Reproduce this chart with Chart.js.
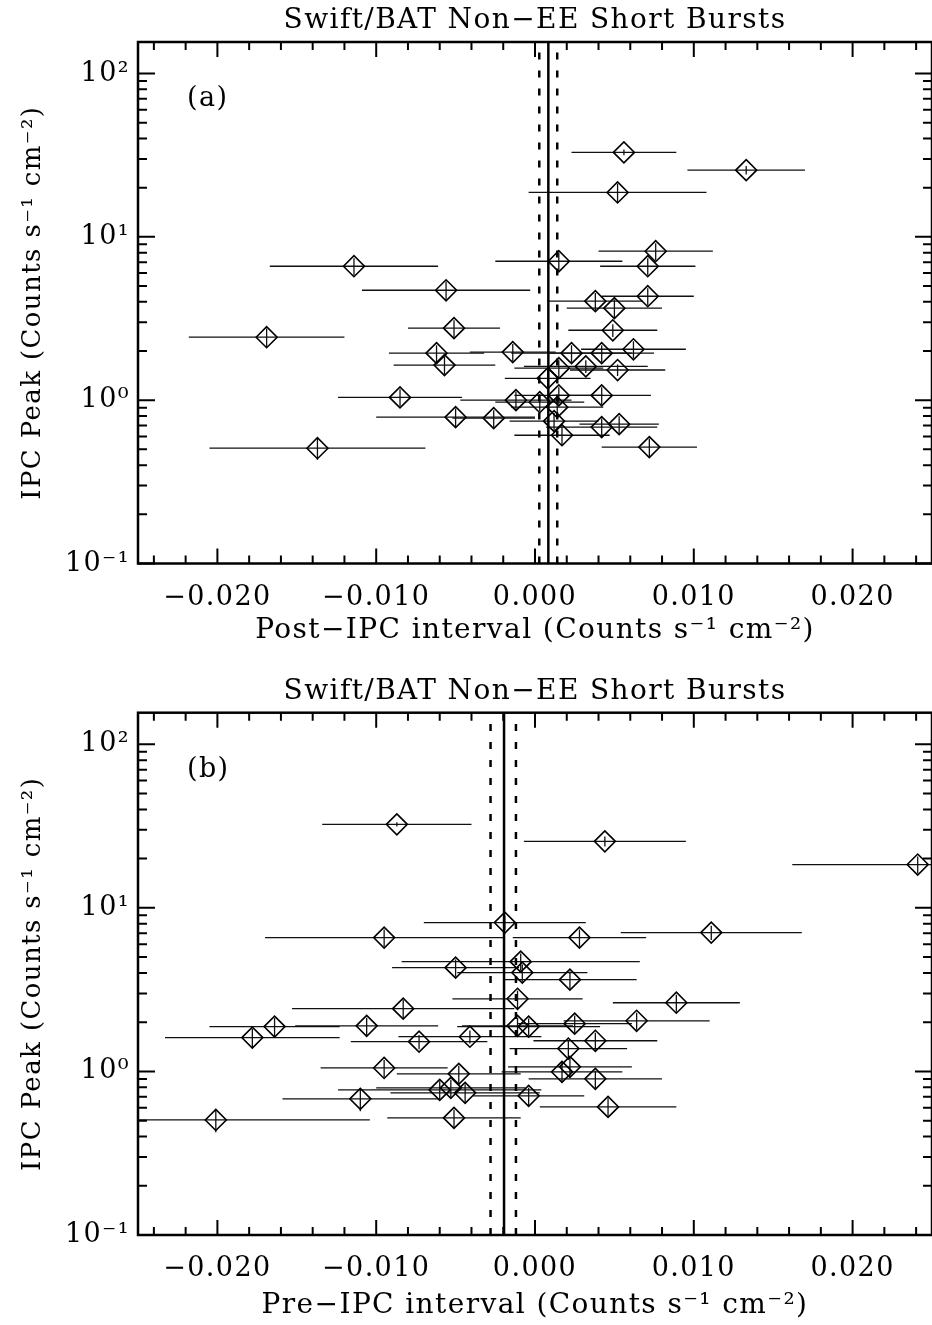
<!DOCTYPE html>
<html>
<head>
<meta charset="utf-8">
<title>Swift/BAT Non-EE Short Bursts</title>
<script src="https://cdn.jsdelivr.net/npm/chart.js@4.4.0/dist/chart.umd.min.js"></script>
<style>
    html, body { margin: 0; padding: 0; background: #fff; overflow: hidden; }
    #wrap { position: relative; width: 932px; height: 1325px; overflow: hidden; }
    canvas { position: absolute; left: 0; }
    #chart-post { top: 0; }
    #chart-pre { top: 662px; }
</style>
</head>
<body>
<div id="wrap">
    <canvas id="chart-post" width="932" height="662"></canvas>
    <canvas id="chart-pre" width="932" height="663"></canvas>
</div>
<script>
// Panel (a): post-IPC interval
const postX = [0.0056, 0.0133, 0.0052, 0.0076, 0.0015, 0.0071, -0.0114, -0.0056, 0.0071, 0.0038,
    0.0050, 0.0049, -0.0051, -0.0062, -0.0057, -0.0169, -0.0014, 0.0023, 0.0042, 0.0062,
    0.0015, 0.0032, 0.0052, 0.0008, -0.0085, -0.0012, 0.0003, 0.0015, 0.0042, 0.0014,
    -0.0050, -0.0026, 0.0012, 0.0042, 0.0053, 0.0017, 0.0072, -0.0137];
const postPeak = [32.9, 25.6, 18.7, 8.17, 7.09, 6.61, 6.61, 4.71, 4.33, 4.04,
    3.66, 2.68, 2.76, 1.94, 1.64, 2.43, 1.97, 1.94, 1.94, 2.05,
    1.57, 1.61, 1.53, 1.36, 1.04, 1.00, 0.972, 1.07, 1.07, 0.906,
    0.787, 0.776, 0.744, 0.684, 0.713, 0.61, 0.516, 0.508];
const postXErr = [0.0033, 0.0037, 0.0056, 0.0036, 0.0040, 0.0030, 0.0053, 0.0053, 0.0029, 0.0030,
    0.0030, 0.0028, 0.0029, 0.0030, 0.0032, 0.0049, 0.0027, 0.0038, 0.0033, 0.0033,
    0.0028, 0.0039, 0.0030, 0.0027, 0.0039, 0.0035, 0.0028, 0.0028, 0.0031, 0.0029,
    0.0050, 0.0026, 0.0028, 0.0035, 0.0025, 0.0030, 0.0030, 0.0068];
const postYErr = [0.04, 0.06, 0.13, 0.12, 0.13, 0.12, 0.12, 0.13, 0.12, 0.12,
    0.13, 0.09, 0.12, 0.12, 0.12, 0.13, 0.12, 0.12, 0.12, 0.12,
    0.12, 0.09, 0.08, 0.12, 0.12, 0.13, 0.12, 0.12, 0.12, 0.12,
    0.13, 0.12, 0.12, 0.13, 0.12, 0.13, 0.13, 0.15];
const postMean = [0.00027, 0.00084, 0.0014];   // lower, mean, upper

// Panel (b): pre-IPC interval
const preX = [-0.0087, 0.0044, 0.0241, -0.0019, -0.0095, 0.0028, 0.0111, -0.0009, -0.0050, -0.0008,
    0.0022, -0.0011, -0.0083, 0.0089, 0.0064, -0.0106, -0.0011, -0.0004, 0.0025, -0.0164,
    -0.0178, -0.0041, -0.0073, 0.0038, 0.0021, -0.0095, -0.0048, 0.0017, 0.0022, 0.0038,
    -0.0060, -0.0053, -0.0044, -0.0004, -0.0110, 0.0046, -0.0051, -0.0201];
const prePeak = [32.4, 25.5, 18.4, 8.13, 6.58, 6.58, 7.06, 4.69, 4.31, 4.02,
    3.64, 2.78, 2.42, 2.63, 2.04, 1.90, 1.90, 1.88, 1.96, 1.88,
    1.61, 1.63, 1.52, 1.54, 1.38, 1.05, 0.967, 0.994, 1.067, 0.901,
    0.771, 0.794, 0.740, 0.709, 0.680, 0.607, 0.520, 0.505];
const preXErr = [0.0047, 0.0051, 0.0079, 0.0051, 0.0075, 0.0042, 0.0057, 0.0075, 0.0040, 0.0041,
    0.0042, 0.0041, 0.0070, 0.0040, 0.0046, 0.0045, 0.0035, 0.0045, 0.0036, 0.0041,
    0.0055, 0.0045, 0.0043, 0.0039, 0.0037, 0.0040, 0.0039, 0.0038, 0.0039, 0.0042,
    0.0064, 0.0047, 0.0047, 0.0035, 0.0049, 0.0043, 0.0042, 0.0097];
const preYErr = [0.03, 0.07, 0.12, 0.10, 0.12, 0.12, 0.10, 0.12, 0.12, 0.12,
    0.12, 0.12, 0.13, 0.12, 0.12, 0.12, 0.12, 0.12, 0.12, 0.13,
    0.13, 0.09, 0.10, 0.12, 0.12, 0.12, 0.12, 0.14, 0.14, 0.12,
    0.13, 0.12, 0.13, 0.12, 0.16, 0.13, 0.12, 0.16];
const preMean = [-0.0028, -0.00195, -0.0012];

// Axes
const xRange = [-0.025, 0.025];
const yRange = [0.1, 156];
const xTickValues = [-0.02, -0.01, 0, 0.01, 0.02];
const xTickLabels = ['\u22120.020', '\u22120.010', '0.000', '0.010', '0.020'];
const yTickValues = [0.1, 1, 10, 100];
const yTickLabels = ['10\u207B\u00B9', '10\u2070', '10\u00B9', '10\u00B2'];

const TITLE = 'Swift/BAT Non\u2212EE Short Bursts';
const Y_TITLE = 'IPC Peak (Counts s\u207B\u00B9 cm\u207B\u00B2)';
const FONT = "'DejaVu Serif', serif";
const AREA_RIGHT = 934;   // plot box runs just past the page edge

/**
 * Inward IDL-style ticks, frame, error bars and panel text
 */
function idlPlugin(p) {
    return {
        id: 'idl-' + p.letter,
        beforeDraw(chart) {
            // the original lettering is wider than DejaVu
            chart.ctx.letterSpacing = '1.4px';
        },
        beforeDatasetsDraw(chart) {
            const { ctx, chartArea: a, scales: { x, y } } = chart;
            ctx.save();
            ctx.beginPath();
            ctx.rect(a.left, a.top, a.right - a.left, a.bottom - a.top);
            ctx.clip();
            ctx.strokeStyle = '#111';
            ctx.lineWidth = 1.3;
            p.xs.forEach((xv, i) => {
                const py = y.getPixelForValue(p.ys[i]);
                const px = x.getPixelForValue(xv);
                ctx.beginPath();
                ctx.moveTo(x.getPixelForValue(xv - p.xerr[i]), py);
                ctx.lineTo(x.getPixelForValue(xv + p.xerr[i]), py);
                ctx.moveTo(px, y.getPixelForValue(p.ys[i] * (1 - p.yerr[i])));
                ctx.lineTo(px, y.getPixelForValue(p.ys[i] * (1 + p.yerr[i])));
                ctx.stroke();
            });
            ctx.restore();
        },
        afterDraw(chart) {
            const { ctx, chartArea: a, scales: { x, y } } = chart;
            ctx.save();
            ctx.strokeStyle = '#000';
            ctx.lineWidth = 2;
            ctx.beginPath();
            // x ticks, every 0.002, major every 0.01
            for (let k = -12; k <= 12; k++) {
                const px = x.getPixelForValue(k * 0.002);
                const len = k % 5 === 0 ? 15 : 8;
                ctx.moveTo(px, a.bottom); ctx.lineTo(px, a.bottom - len);
                ctx.moveTo(px, a.top); ctx.lineTo(px, a.top + len);
            }
            // y ticks, log minor
            yTickValues.forEach(d => {
                for (let m = 1; m <= 9; m++) {
                    const v = d * m;
                    if (v > yRange[1]) break;
                    const py = y.getPixelForValue(v);
                    const len = m === 1 ? 17 : 9;
                    ctx.moveTo(a.left, py); ctx.lineTo(a.left + len, py);
                    ctx.moveTo(a.right, py); ctx.lineTo(a.right - len, py);
                }
            });
            ctx.stroke();
            ctx.lineWidth = 2.5;
            ctx.strokeRect(a.left, a.top, a.right - a.left, a.bottom - a.top);

            ctx.fillStyle = '#000';
            ctx.font = '28px ' + FONT;
            ctx.textAlign = 'center';
            ctx.textBaseline = 'alphabetic';
            ctx.fillText(TITLE, (a.left + a.right) / 2, a.top - 14);
            ctx.textAlign = 'left';
            ctx.font = '27px ' + FONT;
            ctx.fillText('(' + p.letter + ')', a.left + 49, a.top + 64);
            ctx.restore();
            ctx.letterSpacing = '0px';
        }
    };
}

function makePanel(id, p) {
    const canvas = document.getElementById(id);
    const H = canvas.height;
    const meanLine = (v, dash) => ({
        type: 'line',
        data: [{ x: v, y: yRange[0] }, { x: v, y: yRange[1] }],
        borderColor: '#000',
        borderWidth: 2.5,
        borderDash: dash,
        pointRadius: 0,
        fill: false
    });

    return new Chart(canvas.getContext('2d'), {
        type: 'scatter',
        data: {
            datasets: [
                {
                    data: p.xs.map((v, i) => ({ x: v, y: p.ys[i] })),
                    pointStyle: 'rectRot',
                    pointRadius: 10.5,
                    borderColor: '#000',
                    borderWidth: 1.6,
                    backgroundColor: 'rgba(0,0,0,0)'
                },
                meanLine(p.mean[0], [7, 11]),
                meanLine(p.mean[1], []),
                meanLine(p.mean[2], [7, 11])
            ]
        },
        options: {
            responsive: false,
            animation: false,
            devicePixelRatio: 1,
            layout: {
                autoPadding: false,
                padding: { top: p.top, right: canvas.width - AREA_RIGHT, left: 0, bottom: 0 }
            },
            plugins: { legend: { display: false }, tooltip: { enabled: false } },
            scales: {
                x: {
                    type: 'linear',
                    min: xRange[0],
                    max: xRange[1],
                    grid: { display: false, drawTicks: false, tickLength: 0 },
                    border: { display: false },
                    afterFit: s => {
                        s.height = H - p.bottom;
                        s.paddingLeft = 0;
                        s.paddingRight = 0;
                    },
                    afterBuildTicks: s => { s.ticks = xTickValues.map(v => ({ value: v })); },
                    ticks: {
                        autoSkip: false,
                        maxRotation: 0,
                        padding: 18,
                        color: '#000',
                        font: { family: FONT, size: 27 },
                        callback: v => {
                            const i = xTickValues.findIndex(t => Math.abs(t - v) < 1e-9);
                            return i >= 0 ? xTickLabels[i] : '';
                        }
                    },
                    title: {
                        display: true,
                        text: p.xTitle,
                        color: '#000',
                        font: { family: FONT, size: 28 },
                        padding: { top: 0, bottom: p.xTitlePad }
                    }
                },
                y: {
                    type: 'logarithmic',
                    min: yRange[0],
                    max: yRange[1],
                    grid: { display: false, drawTicks: false, tickLength: 0 },
                    border: { display: false },
                    afterFit: s => {
                        s.width = 138;
                        s.paddingTop = 0;
                        s.paddingBottom = 0;
                    },
                    afterBuildTicks: s => { s.ticks = yTickValues.map(v => ({ value: v })); },
                    ticks: {
                        autoSkip: false,
                        padding: 8,
                        color: '#000',
                        font: { family: FONT, size: 27 },
                        callback: v => {
                            const i = yTickValues.indexOf(v);
                            return i >= 0 ? yTickLabels[i] : '';
                        }
                    },
                    title: {
                        display: true,
                        text: Y_TITLE,
                        color: '#000',
                        font: { family: FONT, size: 26 },
                        padding: { top: 18, bottom: 0 }
                    }
                }
            }
        },
        plugins: [idlPlugin(p)]
    });
}

makePanel('chart-post', {
    letter: 'a', xs: postX, ys: postPeak, xerr: postXErr, yerr: postYErr, mean: postMean,
    xTitle: 'Post\u2212IPC interval (Counts s\u207B\u00B9 cm\u207B\u00B2)',
    top: 42, bottom: 563.5, xTitlePad: 14
});
makePanel('chart-pre', {
    letter: 'b', xs: preX, ys: prePeak, xerr: preXErr, yerr: preYErr, mean: preMean,
    xTitle: 'Pre\u2212IPC interval (Counts s\u207B\u00B9 cm\u207B\u00B2)',
    top: 50.7, bottom: 573, xTitlePad: 2
});
</script>
</body>
</html>
